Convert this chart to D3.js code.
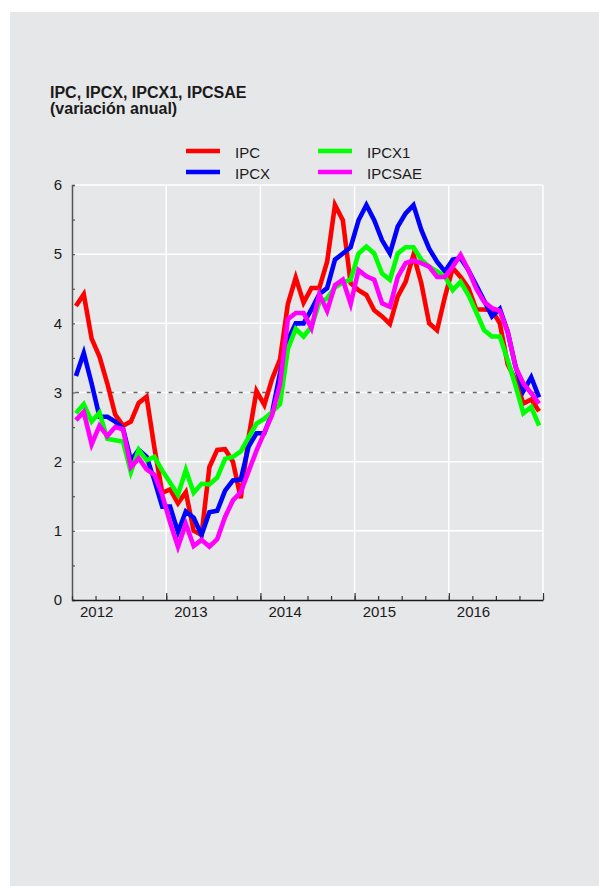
<!DOCTYPE html>
<html>
<head>
  <meta charset="utf-8">
  <title>IPC, IPCX, IPCX1, IPCSAE</title>
  <script src="https://d3js.org/d3.v7.min.js"></script>
  <style>
    html, body {
      margin: 0;
      padding: 0;
      background: #fff;
    }
    svg text {
      font-family: "Liberation Sans", Arial, Helvetica, sans-serif;
      fill: #1a1a1a;
    }
  </style>
</head>
<body>
  <script>
    // monthly annual variation, Jan 2012 .. Dec 2016
    const years = ['2012', '2013', '2014', '2015', '2016'];

    const ipc = [4.25, 4.42, 3.78, 3.52, 3.13, 2.68, 2.52, 2.58, 2.85, 2.94, 2.2, 1.55,
      1.6, 1.4, 1.56, 1.0, 0.94, 1.92, 2.17, 2.18, 2.0, 1.47, 2.35, 3.02,
      2.82, 3.2, 3.48, 4.28, 4.66, 4.3, 4.51, 4.51, 4.89, 5.71, 5.49, 4.58,
      4.48, 4.41, 4.19, 4.1, 3.99, 4.39, 4.6, 4.99, 4.58, 4.0, 3.9, 4.38,
      4.8, 4.67, 4.51, 4.2, 4.2, 4.19, 4.0, 3.41, 3.18, 2.84, 2.9, 2.73];

    const ipcx = [3.24, 3.57, 3.13, 2.65, 2.65, 2.58, 2.48, 2.02, 2.17, 2.07, 1.73, 1.35,
      1.35, 0.98, 1.28, 1.19, 0.94, 1.27, 1.29, 1.58, 1.73, 1.74, 2.22, 2.41,
      2.41, 2.71, 3.28, 3.76, 4.0, 4.0, 4.2, 4.42, 4.51, 4.92, 5.01, 5.1,
      5.49, 5.71, 5.49, 5.2, 5.01, 5.4, 5.59, 5.71, 5.35, 5.08, 4.89, 4.75,
      4.92, 4.94, 4.77, 4.55, 4.33, 4.1, 4.21, 3.88, 3.38, 3.02, 3.22, 2.93];

    const ipcx1 = [2.7, 2.83, 2.58, 2.71, 2.33, 2.31, 2.29, 1.85, 2.17, 2.02, 2.07, 1.87,
      1.7, 1.52, 1.88, 1.55, 1.68, 1.67, 1.77, 2.04, 2.07, 2.15, 2.35, 2.55,
      2.62, 2.72, 2.83, 3.63, 3.92, 3.81, 3.95, 4.3, 4.36, 4.52, 4.59, 4.63,
      5.01, 5.11, 5.01, 4.72, 4.63, 5.01, 5.1, 5.1, 4.92, 4.82, 4.75, 4.68,
      4.48, 4.6, 4.41, 4.16, 3.9, 3.81, 3.81, 3.47, 3.1, 2.7, 2.79, 2.52];

    const ipcsae = [2.6, 2.72, 2.25, 2.52, 2.37, 2.5, 2.47, 1.92, 2.05, 1.89, 1.81, 1.52,
      1.12, 0.77, 1.1, 0.78, 0.87, 0.77, 0.88, 1.2, 1.44, 1.56, 1.86, 2.16,
      2.42, 2.68, 3.12, 4.06, 4.15, 4.15, 3.93, 4.42, 4.18, 4.55, 4.63, 4.28,
      4.77, 4.68, 4.63, 4.29, 4.24, 4.67, 4.87, 4.91, 4.87, 4.82, 4.67, 4.67,
      4.82, 4.99, 4.77, 4.5, 4.31, 4.22, 4.18, 3.88, 3.37, 3.13, 2.99, 2.84];

    const seriesNames = ['IPC', 'IPCX', 'IPCX1', 'IPCSAE'];
    const seriesColors = ['#ff0000', '#0000ff', '#00ff00', '#ff00ff'];
    const seriesValues = [ipc, ipcx, ipcx1, ipcsae];

    const width = 599;
    const height = 886;
    const plotLeft = 72, plotRight = 543, plotTop = 185, plotBottom = 600;

    const svg = d3.select('body').append('svg')
      .attr('width', width)
      .attr('height', height)
      .style('display', 'block');

    // grey panel
    svg.append('rect')
      .attr('x', 10).attr('y', 12)
      .attr('width', width - 10).attr('height', height - 12)
      .attr('fill', '#e6e7e9');

    // title
    const title = svg.append('text')
      .attr('x', 50).attr('y', 98)
      .style('font-size', '16px')
      .style('font-weight', 'bold');
    title.append('tspan').attr('x', 50).text('IPC, IPCX, IPCX1, IPCSAE');
    title.append('tspan').attr('x', 50).attr('dy', 15.5).text('(variación anual)');

    const x = d3.scaleLinear().domain([0, 60]).range([plotLeft, plotRight]);
    const y = d3.scaleLinear().domain([0, 6]).range([plotBottom, plotTop]);

    // gridlines
    const grid = svg.append('g').attr('stroke', '#ffffff').attr('stroke-width', 1.5);
    grid.selectAll('.hg').data([1, 2, 3, 4, 5, 6]).enter().append('line')
      .attr('x1', plotLeft).attr('x2', plotRight)
      .attr('y1', d => y(d)).attr('y2', d => y(d));
    grid.selectAll('.vg').data([12, 24, 36, 48, 60]).enter().append('line')
      .attr('x1', d => x(d)).attr('x2', d => x(d))
      .attr('y1', plotTop).attr('y2', plotBottom);

    // reference line at 3%
    svg.append('line')
      .attr('x1', plotLeft + 3).attr('x2', plotRight)
      .attr('y1', y(3)).attr('y2', y(3))
      .attr('stroke', '#666')
      .attr('stroke-width', 1.5)
      .attr('stroke-dasharray', '4,7.7');

    // series
    const line = d3.line()
      .x((d, i) => x(i + 0.5))
      .y(d => y(d));

    seriesValues.forEach((vals, k) => {
      svg.append('path')
        .datum(vals)
        .attr('fill', 'none')
        .attr('stroke', seriesColors[k])
        .attr('stroke-width', 4.6)
        .attr('stroke-linejoin', 'miter')
        .attr('d', line);
    });

    // y axis
    const yAxis = d3.axisLeft(y)
      .tickValues(d3.range(0, 6.01, 0.5))
      .tickSize(-3)
      .tickPadding(10)
      .tickFormat(d => Number.isInteger(d) ? d : '');
    const gy = svg.append('g')
      .attr('transform', `translate(${plotLeft},0)`)
      .call(yAxis);
    gy.select('.domain').attr('stroke', '#555').attr('stroke-width', 1.5);
    gy.selectAll('.tick line').attr('stroke', '#555').attr('stroke-width', 1.2);
    gy.selectAll('.tick text').style('font-size', '15px').attr('fill', '#1a1a1a');

    // x axis: quarter ticks, year ticks, labels
    const gx = svg.append('g')
      .attr('transform', `translate(0,${plotBottom})`)
      .call(d3.axisBottom(x).tickValues(d3.range(0, 61, 3)).tickSize(-4).tickSizeOuter(0).tickFormat(''));
    gx.select('.domain').attr('stroke', '#1a1a1a').attr('stroke-width', 1.5);
    gx.selectAll('.tick line').attr('stroke', '#333').attr('stroke-width', 1.2);

    const gx2 = svg.append('g')
      .attr('transform', `translate(0,${plotBottom})`)
      .call(d3.axisBottom(x).tickValues(d3.range(12, 61, 12)).tickSize(-7).tickSizeOuter(0).tickFormat(''));
    gx2.select('.domain').remove();
    gx2.selectAll('.tick line').attr('stroke', '#333').attr('stroke-width', 1.2);

    svg.append('g').selectAll('text').data(years).enter().append('text')
      .attr('x', (d, i) => x(i * 12 + 3.15))
      .attr('y', 617)
      .attr('text-anchor', 'middle')
      .style('font-size', '15px')
      .text(d => d);

    // legend
    const legendPos = [[186, 151], [186, 172], [318, 151], [318, 172]];
    const legend = svg.append('g');
    seriesNames.forEach((name, k) => {
      const [lx, ly] = legendPos[k];
      legend.append('line')
        .attr('x1', lx).attr('x2', lx + 34)
        .attr('y1', ly).attr('y2', ly)
        .attr('stroke', seriesColors[k])
        .attr('stroke-width', 4.5);
      legend.append('text')
        .attr('x', lx + 49).attr('y', ly + 6.5)
        .style('font-size', '15px')
        .text(name);
    });
  </script>
</body>
</html>
